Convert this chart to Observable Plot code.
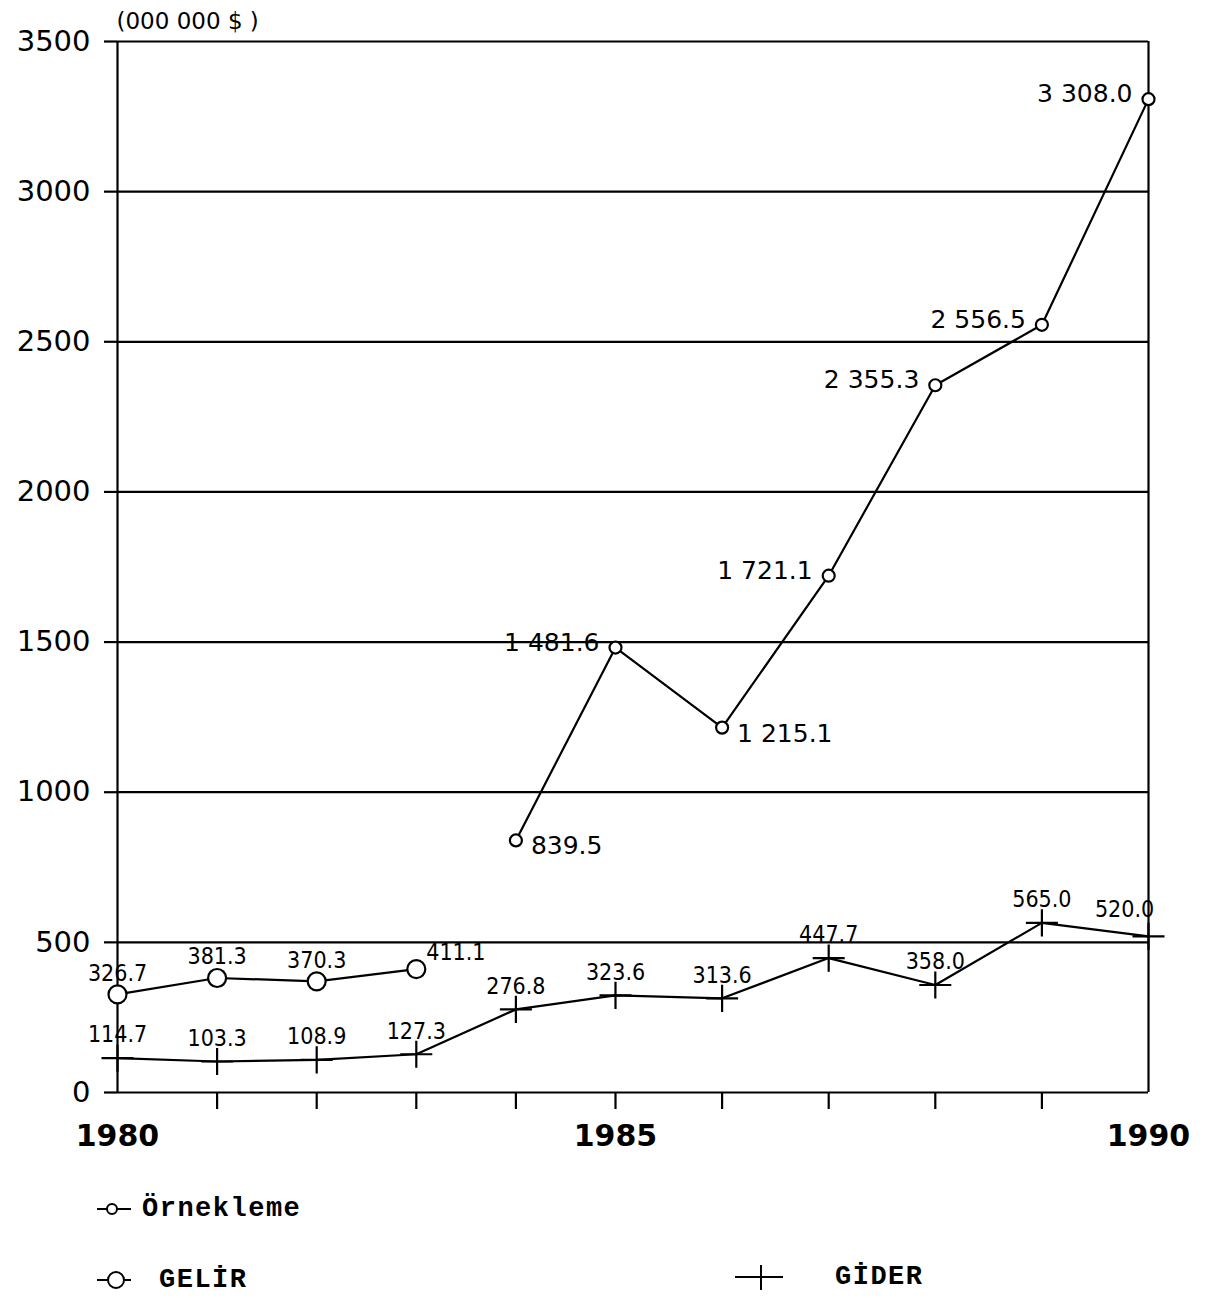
<!DOCTYPE html>
<html>
<head>
<meta charset="utf-8">
<script src="https://cdn.jsdelivr.net/npm/d3@7"></script>
<script src="https://cdn.jsdelivr.net/npm/@observablehq/plot@0.6"></script>
<style>
  body { margin: 0; background: #fff; }
  #wrap { position: relative; width: 1211px; height: 1298px; background: #fff; }
  #wrap svg.plot { display: block; }
  .leg { position: absolute; display: flex; align-items: center; font-family: "Liberation Mono", "DejaVu Sans Mono", monospace; font-weight: bold; font-size: 27px; letter-spacing: 1.5px; color: #000; }
  .leg svg { display: block; }
</style>
</head>
<body>
<div id="wrap"></div>
<script>
// ---- data ----
const years = [1980, 1981, 1982, 1983, 1984, 1985, 1986, 1987, 1988, 1989, 1990];
const ornYears = [1984, 1985, 1986, 1987, 1988, 1989, 1990];
const ornValues = [839.5, 1481.6, 1215.1, 1721.1, 2355.3, 2556.5, 3308.0];
const gelirYears = [1980, 1981, 1982, 1983];
const gelirValues = [326.7, 381.3, 370.3, 411.1];
const giderYears = years;
const giderValues = [114.7, 103.3, 108.9, 127.3, 276.8, 323.6, 313.6, 447.7, 358.0, 565.0, 520.0];
const yTicks = [0, 500, 1000, 1500, 2000, 2500, 3000, 3500];
const xMinorTicks = [1981, 1982, 1983, 1984, 1985, 1986, 1987, 1988, 1989];
const xLabelYears = [1980, 1985, 1990];
const unitLabel = "(000 000 $ )";
const legendNames = { orn: "Örnekleme", gelir: "GELİR", gider: "GİDER" };

// ---- tables ----
const orn = ornYears.map((year, i) => ({ year, value: ornValues[i] }));
const gelir = gelirYears.map((year, i) => ({ year, value: gelirValues[i] }));
const gider = giderYears.map((year, i) => ({ year, value: giderValues[i] }));

const fmt = v => {
  const [i, d] = v.toFixed(1).split(".");
  return i.replace(/\B(?=(\d{3})+(?!\d))/g, " ") + "." + d;
};

// plus-shaped stroked symbol
const cross = {
  draw(ctx, size) {
    const r = Math.sqrt(size / Math.PI);
    ctx.moveTo(-r, 0); ctx.lineTo(r, 0);
    ctx.moveTo(0, -r * 0.85); ctx.lineTo(0, r * 0.85);
  }
};

const labelFont = "DejaVu Sans Condensed, DejaVu Sans, sans-serif";
const wideFont = "DejaVu Sans, sans-serif";
const ornRight = [1984, 1986];
const SW = 2.2;

const chart = Plot.plot({
  width: 1211,
  height: 1165,
  marginTop: 41,
  marginBottom: 73,
  marginLeft: 117,
  marginRight: 63,
  style: { background: "#fff", color: "#000" },
  x: { type: "linear", domain: [1980, 1985, 1990], range: [117, 615, 1148] },
  y: { type: "linear", domain: [0, 3500], range: [1092, 41] },
  marks: [
    Plot.ruleY(yTicks, { stroke: "#000", strokeWidth: SW }),
    Plot.ruleX([1980, 1990], { y1: 0, y2: 3500, stroke: "#000", strokeWidth: SW }),
    Plot.axisY({ ticks: yTicks, tickSize: 13, tickPadding: 14, fontSize: 29, fontFamily: wideFont, tickFormat: d => String(d), label: null, strokeWidth: SW }),
    Plot.axisX({ ticks: xMinorTicks, tickSize: 17, tickFormat: () => "", label: null, strokeWidth: SW }),
    Plot.axisX({ ticks: xLabelYears, tickSize: 0, tickPadding: 32, fontSize: 30, fontWeight: "bold", fontFamily: wideFont, tickFormat: d => String(d), label: null }),
    Plot.text([unitLabel], { frameAnchor: "top-left", textAnchor: "start", lineAnchor: "middle", dx: -1, dy: -20, fontSize: 23, fontFamily: wideFont }),

    // Örnekleme
    Plot.line(orn, { x: "year", y: "value", stroke: "#000", strokeWidth: SW }),
    Plot.dot(orn, { x: "year", y: "value", r: 6, fill: "#fff", stroke: "#000", strokeWidth: SW }),
    Plot.text(orn.filter(d => !ornRight.includes(d.year)), { x: "year", y: "value", text: d => fmt(d.value), textAnchor: "end", dx: -16, dy: -5, fontSize: 25, fontFamily: wideFont }),
    Plot.text(orn.filter(d => ornRight.includes(d.year)), { x: "year", y: "value", text: d => fmt(d.value), textAnchor: "start", dx: 15, dy: 6, fontSize: 25, fontFamily: wideFont }),

    // GELİR
    Plot.line(gelir, { x: "year", y: "value", stroke: "#000", strokeWidth: SW }),
    Plot.dot(gelir, { x: "year", y: "value", r: 9, fill: "#fff", stroke: "#000", strokeWidth: SW }),
    Plot.text(gelir.filter(d => d.year !== 1983), { x: "year", y: "value", text: d => fmt(d.value), textAnchor: "middle", dy: -21, fontSize: 23, fontFamily: labelFont }),
    Plot.text(gelir.filter(d => d.year === 1983), { x: "year", y: "value", text: d => fmt(d.value), textAnchor: "start", dx: 10, dy: -16, fontSize: 23, fontFamily: labelFont }),

    // GİDER
    Plot.line(gider, { x: "year", y: "value", stroke: "#000", strokeWidth: SW }),
    Plot.dot(gider, { x: "year", y: "value", r: 16, symbol: cross, fill: "none", stroke: "#000", strokeWidth: SW }),
    Plot.text(gider.filter(d => d.year !== 1990), { x: "year", y: "value", text: d => fmt(d.value), textAnchor: "middle", dy: -23, fontSize: 23, fontFamily: labelFont }),
    Plot.text(gider.filter(d => d.year === 1990), { x: "year", y: "value", text: d => fmt(d.value), textAnchor: "middle", dx: -24, dy: -27, fontSize: 23, fontFamily: labelFont })
  ]
});
chart.classList.add("plot");
const wrap = document.getElementById("wrap");
wrap.appendChild(chart);

// ---- legend (HTML below the SVG) ----
function legendItem(left, top, symbolSvg, name, gap) {
  const div = document.createElement("div");
  div.className = "leg";
  div.style.left = left + "px";
  div.style.top = top + "px";
  div.innerHTML = symbolSvg + `<span style="margin-left:${gap}px">${name}</span>`;
  wrap.appendChild(div);
}
const symSmall = `<svg width="34" height="24"><line x1="0" y1="12" x2="34" y2="12" stroke="#000" stroke-width="2"/><circle cx="15" cy="12" r="5" fill="#fff" stroke="#000" stroke-width="2"/></svg>`;
const symBig = `<svg width="34" height="24"><line x1="0" y1="12" x2="34" y2="12" stroke="#000" stroke-width="2"/><circle cx="19" cy="12" r="8" fill="#fff" stroke="#000" stroke-width="2"/></svg>`;
const symCross = `<svg width="48" height="30"><line x1="0" y1="15" x2="48" y2="15" stroke="#000" stroke-width="2"/><line x1="26" y1="3" x2="26" y2="28" stroke="#000" stroke-width="2"/></svg>`;
legendItem(97, 1194, symSmall, legendNames.orn, 11);
legendItem(97, 1265, symBig, legendNames.gelir, 28);
legendItem(735, 1262, symCross, legendNames.gider, 52);
</script>
</body>
</html>
